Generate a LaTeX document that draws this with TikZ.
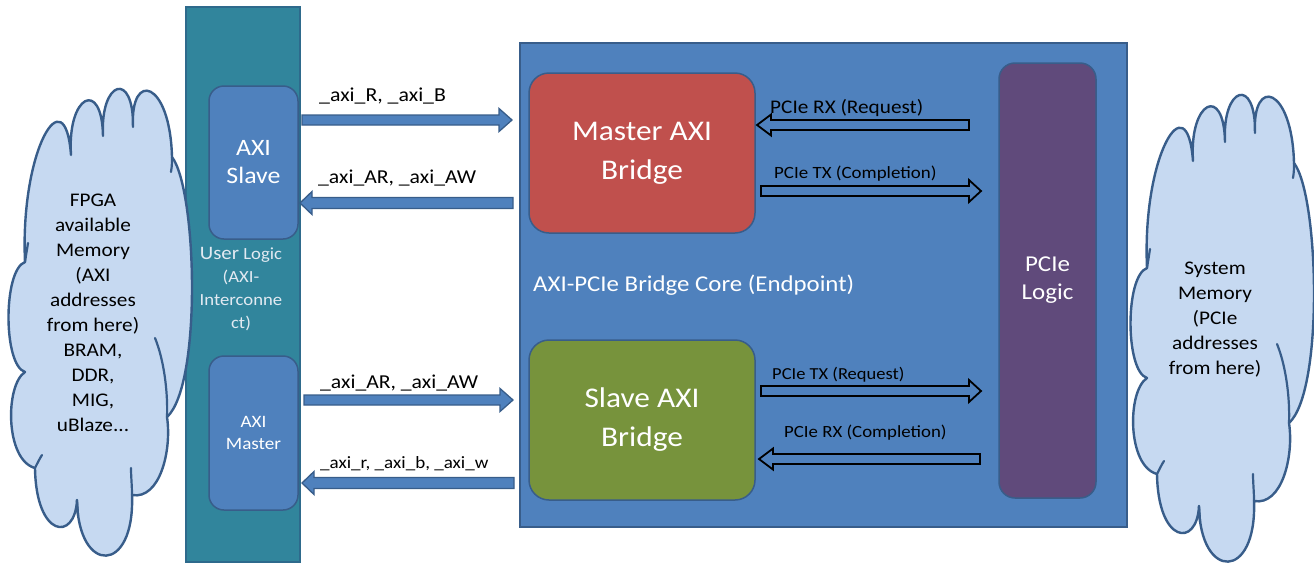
\documentclass[tikz,border=0pt]{standalone}
\usepackage{fontspec}
\setmainfont{Carlito}[FakeStretch=1.1]
\usetikzlibrary{calc}
\definecolor{tealf}{HTML}{31859C}
\definecolor{tealb}{HTML}{2E6A8C}
\definecolor{bluef}{HTML}{4F81BD}
\definecolor{blueb}{HTML}{385D8A}
\definecolor{redf}{HTML}{C0504D}
\definecolor{greenf}{HTML}{77933C}
\definecolor{purplef}{HTML}{604A7B}
\definecolor{cloudf}{HTML}{C6D9F1}
\definecolor{ultext}{HTML}{E2EAF2}
\newcommand\blockarrow[6][]{%
  \draw[#1] let \p1=(#2), \p2=(#3), \n1={sign(\x2-\x1)} in
    (\x1,{\y1+#4}) -- ({\x2-(\n1)*#6},{\y1+#4}) -- ({\x2-(\n1)*#6},{\y1+#5}) -- (\x2,\y1)
    -- ({\x2-(\n1)*#6},{\y1-#5}) -- ({\x2-(\n1)*#6},{\y1-#4}) -- (\x1,{\y1-#4}) -- cycle;}
\newcommand\memcloud[1]{%
  \begin{scope}[shift={#1}]
    \filldraw[fill=cloudf, draw=blueb, line width=2.4pt, line join=round]
      (25,262) .. controls (20,150) and (65,75) .. (71,155)
      .. controls (67,95) and (102,78) .. (103,136)
      .. controls (100,80) and (134,70) .. (133,127)
      .. controls (130,70) and (170,80) .. (172,157)
      .. controls (197,190) and (202,385) .. (167,417)
      .. controls (172,450) and (160,500) .. (132,495)
      .. controls (135,575) and (78,575) .. (77,500)
      .. controls (75,542) and (36,538) .. (35,468)
      .. controls (5,460) and (5,385) .. (25,372)
      .. controls (3,365) and (3,270) .. (25,262) -- cycle;
    \draw[draw=blueb, line width=2.2pt, line cap=round]
      (155,338) .. controls (164,360) and (168,392) .. (167,417)
      (25,262) .. controls (26,255) and (27,250) .. (28,243)
      (172,157) .. controls (172,162) and (172,166) .. (171,172)
      (132,495) .. controls (132,485) and (131,477) .. (131,468)
      (77,500) .. controls (77,505) and (78,510) .. (78,516)
      (35,468) .. controls (38,462) and (40,458) .. (42,455);
  \end{scope}}
\begin{document}
\begin{tikzpicture}[x=1pt,y=-1pt,
  rbox/.style={draw=blueb, line width=1.5pt, inner sep=0pt, text=white, align=center},
  bigfont/.style={font=\fontsize{28.5}{39}\selectfont},
  bluearr/.style={fill=bluef, draw=blueb, line width=1.3pt},
  blackarr/.style={fill=bluef, draw=black, line width=1.8pt},
  lbl/.style={inner sep=0pt, anchor=base west, text=black},
  memtext/.style={inner sep=0pt, align=center, text=black}]
\useasboundingbox (0,0) rectangle (1314,563);

% User logic column
\node[rbox, draw=tealb, fill=tealf, minimum width=114pt, minimum height=555pt] (col) at (243,284.5) {};
\node[rbox, fill=bluef, rounded corners=15pt, minimum width=89pt, minimum height=153pt,
      font=\fontsize{23.5}{28}\selectfont] (axis) at (253.5,162.5) {AXI\\Slave};
\node[rbox, fill=bluef, rounded corners=15pt, minimum width=89pt, minimum height=154pt,
      font=\fontsize{17.4}{22}\selectfont] (axim) at (253.5,433) {AXI\\Master};
\node[inner sep=0pt, align=center, text=ultext, font=\fontsize{17}{23}\selectfont] (ultxt) at (241,289)
  {{\fontsize{19}{23}\selectfont User} Logic\\(AXI-\\Interconne\\ct)};

% left cloud
\memcloud{(0,0)}
\node[memtext, font=\fontsize{19.3}{25}\selectfont] (fpgatxt) at (93,313)
  {FPGA\\available\\Memory\\(AXI\\addresses\\from here)\\BRAM,\\DDR,\\MIG,\\uBlaze...};

% core
\node[rbox, fill=bluef, minimum width=607pt, minimum height=484pt] (core) at (823.5,285) {};
\node[rbox, fill=redf, rounded corners=20pt, minimum width=226pt, minimum height=160pt, bigfont] (mab) at (642,153) {Master AXI\\Bridge};
\node[rbox, fill=greenf, rounded corners=20pt, minimum width=226pt, minimum height=160pt, bigfont] (sab) at (642,420) {Slave AXI\\Bridge};
\node[rbox, fill=purplef, rounded corners=16pt, minimum width=97pt, minimum height=435pt,
      font=\fontsize{22.7}{28}\selectfont] (pcie) at (1047.5,280.5) {PCIe\\Logic};
\node[lbl, text=white, font=\fontsize{22.6}{26}\selectfont] (coretxt) at (533,291) {AXI-PCIe Bridge Core (Endpoint)};

% arrow end points
\coordinate (a1s) at (302,120); \coordinate (a1e) at (512,120);
\coordinate (a2s) at (513,203); \coordinate (a2e) at (300,203);
\coordinate (a3s) at (304,400); \coordinate (a3e) at (513,400);
\coordinate (a4s) at (514,483); \coordinate (a4e) at (302,483);
\coordinate (b1s) at (969,125); \coordinate (b1e) at (757,125);
\coordinate (b2s) at (761,191); \coordinate (b2e) at (981,191);
\coordinate (b3s) at (761,391); \coordinate (b3e) at (981,391);
\coordinate (b4s) at (980,459); \coordinate (b4e) at (759,459);

\blockarrow[bluearr]{a1s}{a1e}{5pt}{11.5pt}{13pt}
\blockarrow[bluearr]{a2s}{a2e}{5.5pt}{11.5pt}{12pt}
\blockarrow[bluearr]{a3s}{a3e}{5pt}{11.5pt}{13pt}
\blockarrow[bluearr]{a4s}{a4e}{5.5pt}{11.5pt}{12pt}
\blockarrow[blackarr]{b1s}{b1e}{5pt}{10.5pt}{14pt}
\blockarrow[blackarr]{b2s}{b2e}{5pt}{11pt}{12pt}
\blockarrow[blackarr]{b3s}{b3e}{5pt}{11pt}{12pt}
\blockarrow[blackarr]{b4s}{b4e}{5pt}{10.5pt}{14pt}

% arrow labels
\node[lbl, font=\fontsize{19.8}{22}\selectfont] (l1) at (319,101) {\_axi\_R, \_axi\_B};
\node[lbl, font=\fontsize{19.7}{22}\selectfont] (l2) at (318,183) {\_axi\_AR, \_axi\_AW};
\node[lbl, font=\fontsize{19.7}{22}\selectfont] (l3) at (320,388) {\_axi\_AR, \_axi\_AW};
\node[lbl, font=\fontsize{17.3}{20}\selectfont] (l4) at (320,468) {\_axi\_r, \_axi\_b, \_axi\_w};
\node[lbl, font=\fontsize{19.3}{22}\selectfont] (m1) at (770,113) {PCIe RX (Request)};
\node[lbl, font=\fontsize{17.2}{20}\selectfont] (m2) at (774,178) {PCIe TX (Completion)};
\node[lbl, font=\fontsize{16.8}{20}\selectfont] (m3) at (772,379) {PCIe TX (Request)};
\node[lbl, font=\fontsize{17.1}{20}\selectfont] (m4) at (784,437) {PCIe RX (Completion)};

% right cloud
\memcloud{(1122,6)}
\node[memtext, font=\fontsize{19.3}{25}\selectfont] (sysmtxt) at (1215,320)
  {System\\Memory\\(PCIe\\addresses\\from here)};
\end{tikzpicture}
\end{document}
